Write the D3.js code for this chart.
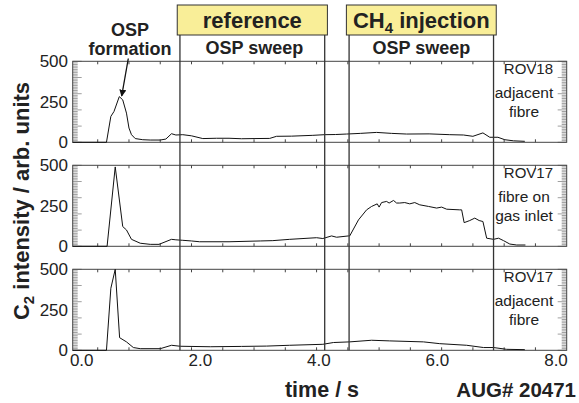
<!DOCTYPE html>
<html><head><meta charset="utf-8">
<script src="https://cdn.jsdelivr.net/npm/d3@7"></script>
<style>body{margin:0;background:#fff}svg{display:block;font-family:"Liberation Sans",Arial,sans-serif}</style>
</head><body><svg id="c" width="579" height="403"></svg>
<script>
// ---- data ----
const tA = [0.10,0.64,0.71,0.76,0.845,0.90,0.96,1.00,1.04,1.10,1.22,1.34,1.50,1.59,1.68,1.75,1.86,2.00,2.18,2.40,2.60,2.80,3.00,3.25,3.36,3.60,3.94,4.13,4.30,4.48,4.70,4.96,5.20,5.44,5.80,6.13,6.35,6.50,6.66,6.77,6.90,7.01,7.15,7.33];
const vA = [0,0,160,190,282,262,180,88,47,23,16,14,14,20,53,45,47,40,23,25,25,22,23,24,37,38,43,47,48,51,55,61,55,51,52,47,45,37,58,31,31,16,9,6];
const tB = [0.10,0.65,0.78,0.90,0.96,1.04,1.18,1.34,1.48,1.68,1.75,1.86,2.00,2.13,2.60,3.10,3.30,3.57,4.00,4.10,4.24,4.32,4.51,4.53,4.67,4.80,4.88,4.97,5.00,5.04,5.12,5.16,5.23,5.28,5.33,5.41,5.49,5.57,5.65,5.79,5.92,6.00,6.08,6.29,6.32,6.36,6.45,6.53,6.60,6.66,6.72,6.83,6.91,6.99,7.09,7.20,7.34];
const vB = [0,0,490,122,101,43,19,12,12,43,40,37,33,28,28,33,35,43,53,48,64,56,64,64,163,225,246,262,242,270,277,267,283,267,267,270,262,270,256,246,236,242,229,225,225,146,159,174,159,153,50,43,50,35,14,8,8];
const tC = [0.10,0.64,0.71,0.78,0.85,0.96,1.07,1.18,1.50,1.68,1.82,2.30,2.80,3.20,3.57,4.10,4.27,4.53,4.88,5.17,5.71,5.97,6.40,6.67,6.83,7.04,7.33];
const vC = [0,0,383,500,78,52,17,10,10,31,25,22,24,26,31,37,48,52,62,58,52,41,31,17,17,6,4];
const panelNames = ["ROV18","ROV17","ROV17"];
const panelNotes = [["adjacent","fibre"],["fibre on","gas inlet"],["adjacent","fibre"]];
const yTickVals = [0,250,500];
const xTickLabels = ["0.0","2.0","4.0","6.0","8.0"];
const xTickVals = [0,2,4,6,8];
const phaseTimes = [1.815, 4.13, 4.52, 6.83];
const boxLabels = ["reference","CH4 injection"];
const sweepLabel = "OSP sweep";

// ---- layout ----
const svg = d3.select("#c");
const x = d3.scaleLinear().domain([0.1, 8]).range([72.7, 566.7]);
const xLab = d3.scaleLinear().domain([0, 8]).range([81.7, 556]);
const panelTop0 = 61.3, panelH = 81, panelStep = 104;
const series = [[tA,vA],[tB,vB],[tC,vC]];
const axisCol = "#444";

series.forEach((s, i) => {
  const top = panelTop0 + i*panelStep;
  const y = d3.scaleLinear().domain([0,500]).range([top+panelH, top]);
  const g = svg.append("g");
  // minor ticks left & right
  const minor = d3.range(0, 501, 10);
  g.selectAll(".ml").data(minor).join("line")
    .attr("x1", x(0.1)).attr("x2", d => x(0.1) + (d%100===0 ? 9 : 5))
    .attr("y1", d => y(d)).attr("y2", d => y(d))
    .attr("stroke", "#777").attr("stroke-width", 0.7);
  g.selectAll(".mr").data(minor).join("line")
    .attr("x1", x(8)).attr("x2", d => x(8) - (d%100===0 ? 9 : 5))
    .attr("y1", d => y(d)).attr("y2", d => y(d))
    .attr("stroke", "#777").attr("stroke-width", 0.7);
  // x ticks top & bottom
  const xt = d3.range(0.5, 8, 0.5);
  g.selectAll(".xt").data(xt).join("line")
    .attr("x1", d => x(d)).attr("x2", d => x(d))
    .attr("y1", top).attr("y2", top+3).attr("stroke", axisCol);
  g.selectAll(".xb").data(xt).join("line")
    .attr("x1", d => x(d)).attr("x2", d => x(d))
    .attr("y1", top+panelH).attr("y2", top+panelH-3).attr("stroke", axisCol);
  // frame
  g.append("rect").attr("x", x(0.1)).attr("y", top)
    .attr("width", x(8)-x(0.1)).attr("height", panelH)
    .attr("fill", "none").attr("stroke", axisCol).attr("stroke-width", 1);
  // y tick labels
  g.selectAll(".yl").data(yTickVals).join("text")
    .attr("x", 68).attr("y", d => y(d)).attr("dy", "0.36em")
    .attr("text-anchor", "end").attr("font-size", 17).attr("fill", "#222")
    .text(d => d);
  // curve
  const pts = s[0].map((t, k) => [t, s[1][k]]);
  g.append("path").datum(pts)
    .attr("d", d3.line().x(d => x(d[0])).y(d => y(d[1])))
    .attr("fill", "none").attr("stroke", "#111").attr("stroke-width", 1);
  // labels
  const lx = 524;
  g.append("text").attr("x", 553).attr("y", top+13).attr("text-anchor", "end")
    .attr("font-size", 15).attr("fill", "#222").text(panelNames[i]);
  panelNotes[i].forEach((t, k) => {
    g.append("text").attr("x", lx).attr("y", top + 37 + k*18.5).attr("text-anchor", "middle")
      .attr("font-size", 15.5).attr("fill", "#222").text(t);
  });
});

// vertical phase lines
svg.selectAll(".vl").data(phaseTimes).join("line")
  .attr("x1", d => x(d)).attr("x2", d => x(d))
  .attr("y1", 35).attr("y2", panelTop0 + 2*panelStep + panelH)
  .attr("stroke", "#333").attr("stroke-width", 1.3);

// yellow boxes
[[0,1],[2,3]].forEach((p, i) => {
  const x0 = x(phaseTimes[p[0]]) - 2.7, x1 = x(phaseTimes[p[1]]) + 2.7;
  svg.append("rect").attr("x", x0).attr("y", 5).attr("width", x1-x0).attr("height", 30)
    .attr("fill", "#f9ee98").attr("stroke", "#333").attr("stroke-width", 1);
  const cx = (x0+x1)/2;
  const tx = svg.append("text").attr("x", cx).attr("y", 28).attr("text-anchor", "middle")
    .attr("font-size", 22).attr("font-weight", "bold").attr("fill", "#222");
  if (i === 0) tx.text(boxLabels[0]);
  else {
    tx.append("tspan").text("CH");
    tx.append("tspan").attr("font-size", 15).attr("dy", 5).text("4");
    tx.append("tspan").attr("dy", -5).text(" injection");
  }
  svg.append("text").attr("x", cx + (i===0 ? 2 : 0)).attr("y", 54).attr("text-anchor", "middle")
    .attr("font-size", 18).attr("font-weight", "bold").attr("fill", "#222").text(sweepLabel);
});

// OSP formation annotation
svg.append("text").attr("x", 130).attr("y", 36).attr("text-anchor", "middle")
  .attr("font-size", 18).attr("font-weight", "bold").attr("fill", "#222").text("OSP");
svg.append("text").attr("x", 130).attr("y", 54.5).attr("text-anchor", "middle")
  .attr("font-size", 18).attr("font-weight", "bold").attr("fill", "#222").text("formation");
svg.append("defs").append("marker").attr("id", "ah").attr("viewBox", "0 0 10 10")
  .attr("refX", 9).attr("refY", 5).attr("markerWidth", 7).attr("markerHeight", 7)
  .attr("orient", "auto").attr("markerUnits", "userSpaceOnUse")
  .append("path").attr("d", "M0,0 L10,5 L0,10 z").attr("fill", "#111");
svg.append("line").attr("x1", 128.3).attr("y1", 58.5).attr("x2", 121.7).attr("y2", 96)
  .attr("stroke", "#111").attr("stroke-width", 1.3).attr("marker-end", "url(#ah)");

// x tick labels
const bottom = panelTop0 + 2*panelStep + panelH;
svg.selectAll(".xl").data(xTickVals).join("text")
  .attr("x", d => xLab(d)).attr("y", bottom + 16).attr("text-anchor", "middle")
  .attr("font-size", 17).attr("fill", "#222")
  .text((d, k) => xTickLabels[k]);

// axis titles
svg.append("text").attr("x", 322).attr("y", 397).attr("text-anchor", "middle")
  .attr("font-size", 21.5).attr("font-weight", "bold").attr("fill", "#222").text("time / s");
svg.append("text").attr("x", 576).attr("y", 397).attr("text-anchor", "end")
  .attr("font-size", 20.5).attr("font-weight", "bold").attr("fill", "#222").text("AUG# 20471");
const yt = svg.append("text").attr("transform", "translate(28.5,201) rotate(-90)")
  .attr("text-anchor", "middle").attr("font-size", 22).attr("font-weight", "bold").attr("fill", "#222");
yt.append("tspan").text("C");
yt.append("tspan").attr("font-size", 15).attr("dy", 5).text("2");
yt.append("tspan").attr("dy", -5).text(" intensity / arb. units");
</script></body></html>
